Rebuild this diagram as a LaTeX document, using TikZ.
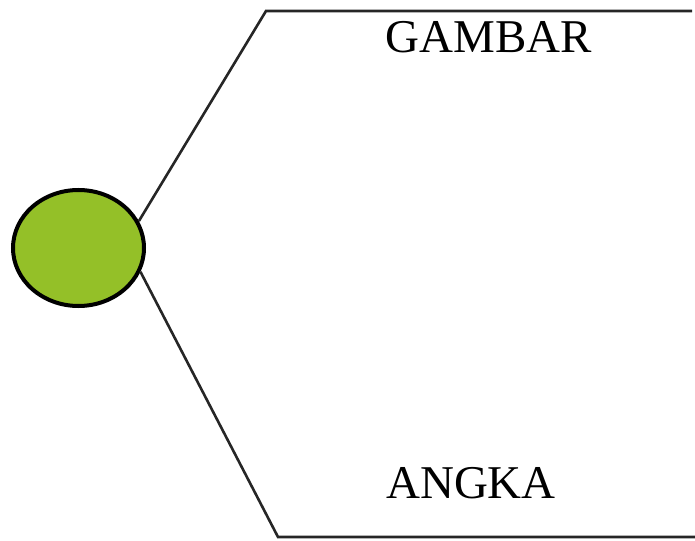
\documentclass[tikz,border=0pt]{standalone}
\usepackage{fontspec}
\setmainfont{Liberation Serif}
\usetikzlibrary{shapes.geometric}
\definecolor{leafgreen}{RGB}{148,192,40}
\tikzset{
  hub/.style={ellipse, draw=black, line width=4pt, fill=leafgreen,
    minimum width=131pt, minimum height=116pt, inner sep=0pt},
  branch/.style={draw=black!85, line width=2.6pt},
  tag/.style={anchor=base, inner sep=0pt, font=\fontsize{47}{50}\selectfont, text=black}
}
\begin{document}
\begin{tikzpicture}[x=1pt,y=-1pt]
  \useasboundingbox (0,0) rectangle (695,540);
  % branch corners and ends
  \coordinate (tc) at (266,11);
  \coordinate (te) at (692,11);
  \coordinate (bc) at (278,537);
  \coordinate (be) at (695,537);
  \node[hub] (c) at (78.5,248) {};
  \draw[branch] (c.24) -- (tc) -- (te);
  \draw[branch] (c.-21) -- (bc) -- (be);
  \node[tag] (g) at (489,53) {GAMBAR};
  \node[tag] (a) at (471,498) {ANGKA};
\end{tikzpicture}
\end{document}
